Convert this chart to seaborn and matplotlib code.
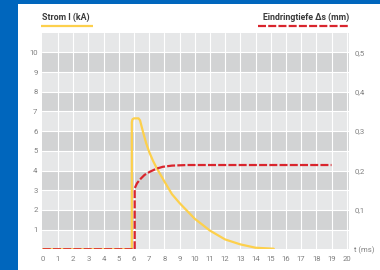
import matplotlib
matplotlib.use("Agg")
import matplotlib.pyplot as plt
from matplotlib.patches import Rectangle
from matplotlib.lines import Line2D
import seaborn as sns
import pandas as pd

# ---- data ----
t_current = [0, 5.86, 5.86, 5.9, 6.0, 6.3, 6.4, 6.6, 6.8, 7.0, 7.25, 7.5, 8.0, 8.5, 9.0, 9.5,
             10.0, 11.0, 12.0, 13.0, 14.0, 15.2]
current_ka = [0, 0, 6.45, 6.6, 6.65, 6.65, 6.55, 5.95, 5.4, 4.95, 4.5, 4.12, 3.45, 2.8, 2.35, 1.95,
              1.55, 0.95, 0.5, 0.25, 0.08, 0.03]

t_depth = [0, 6.05, 6.05, 6.2, 6.4, 6.7, 7.05, 7.5, 7.9, 8.5, 9.5, 19.0]
depth_mm = [0, 0, 0.155, 0.1675, 0.1775, 0.189, 0.197, 0.205, 0.2095, 0.2125, 0.214, 0.214]

x_ticks = list(range(0, 21))
left_ticks = list(range(1, 11))
right_ticks = [0.1, 0.2, 0.3, 0.4, 0.5]
right_labels = ["0,1", "0,2", "0,3", "0,4", "0,5"]

title_left = "Strom I (kA)"
title_right = "Eindringtiefe \u0394s (mm)"
x_unit = "t (ms)"

# ---- style ----
sns.set_style("white")
plt.rcParams['font.family'] = ['Roboto', 'DejaVu Sans']

BLUE = "#0066bd"
YELLOW = "#fdd04c"
RED = "#d9252d"
LIGHT = "#e6e7e8"
DARK = "#d2d3d4"
TICKC = "#808080"
W, H = 380, 270

fig = plt.figure(figsize=(3.8, 2.7), dpi=100)
fig.patch.set_facecolor("white")
fig.patches.append(Rectangle((0, 0), 18 / W, 1, transform=fig.transFigure,
                             facecolor=BLUE, edgecolor="none", zorder=0))
fig.patches.append(Rectangle((0, 1 - 4 / H), 1, 4 / H, transform=fig.transFigure,
                             facecolor=BLUE, edgecolor="none", zorder=0))

ax_l, ax_r, ax_t, ax_b = 41.7, 349, 32.7, 249.3
ax = fig.add_axes([ax_l / W, 1 - ax_b / H, (ax_r - ax_l) / W, (ax_b - ax_t) / H])
ax.set_xlim(-0.07, 20.15)
ax.set_ylim(0, 11)

# bands
for k in range(11):
    ax.axhspan(k, k + 1, facecolor=DARK if k % 2 == 1 else LIGHT, edgecolor="none", zorder=0)
for xv in range(1, 21):
    ax.axvline(xv, color="white", lw=0.8, zorder=1)
for yv in range(1, 11):
    ax.axhline(yv, color="white", lw=0.8, zorder=1)

df_c = pd.DataFrame({"t": t_current, "I": current_ka})
sns.lineplot(data=df_c, x="t", y="I", ax=ax, color=YELLOW, lw=1.6,
             estimator=None, sort=False, zorder=3, solid_joinstyle="round",
             solid_capstyle="round")

ax2 = ax.twinx()
ax2.set_ylim(0, 0.55)
df_d = pd.DataFrame({"t": t_depth, "s": depth_mm})
sns.lineplot(data=df_d, x="t", y="s", ax=ax2, color=RED, lw=1.6,
             estimator=None, sort=False, zorder=4)
ax2.lines[0].set_dashes((3.6, 1.0))

for a in (ax, ax2):
    for sp in a.spines.values():
        sp.set_visible(False)
    a.set_xlabel("")
    a.set_ylabel("")

ax.set_xticks(x_ticks)
ax.set_xticklabels([str(v) for v in x_ticks])
ax.set_yticks(left_ticks)
ax.set_yticklabels([str(v) for v in left_ticks])
ax.tick_params(axis="both", length=0, labelsize=5.6, colors=TICKC)
ax.tick_params(axis="x", pad=5)
ax.tick_params(axis="y", pad=3)
ax2.set_yticks(right_ticks)
ax2.set_yticklabels(right_labels)
ax2.tick_params(axis="y", length=0, labelsize=5.6, colors=TICKC, pad=4)

fig.text(354 / W, 1 - 250.5 / H, x_unit, fontsize=5.6, color=TICKC, ha="left", va="center")

# headers
fig.text(41.5 / W, 1 - 17.5 / H, title_left, fontsize=6.3, fontweight="bold",
         color="#3a3a3a", ha="left", va="center")
fig.text(349.5 / W, 1 - 17.5 / H, title_right, fontsize=6.3, fontweight="bold",
         color="#3a3a3a", ha="right", va="center")
fig.lines.append(Line2D([41 / W, 93 / W], [1 - 26 / H, 1 - 26 / H], transform=fig.transFigure,
                        color=YELLOW, lw=1.6, solid_capstyle="butt"))
fig.lines.append(Line2D([258 / W, 350 / W], [1 - 26.3 / H, 1 - 26.3 / H], transform=fig.transFigure,
                        color=RED, lw=1.6, dashes=(3.6, 1.0)))

fig.savefig("out.png", dpi=100, facecolor="white")
